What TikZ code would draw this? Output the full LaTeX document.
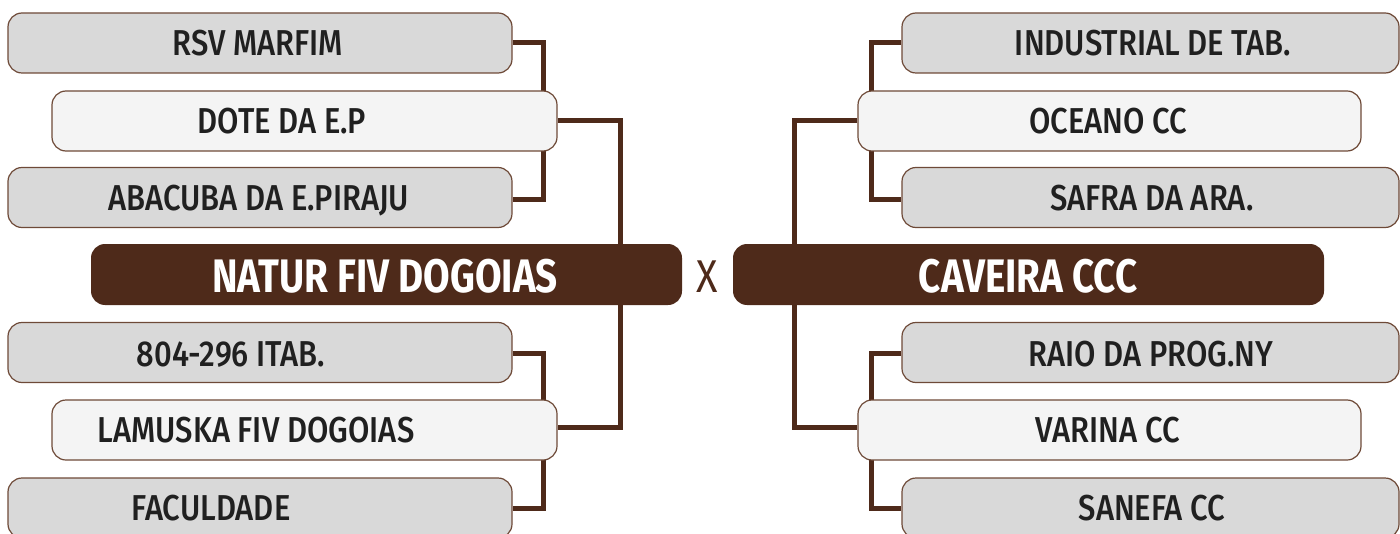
\documentclass[tikz,border=0pt]{standalone}
\usepackage{fontspec}
\setmainfont{Fira Sans}[UprightFont=* Medium, BoldFont=* Bold, FakeStretch=0.86]
\newfontfamily\titlefont{Fira Sans}[UprightFont=* Medium, BoldFont=* Bold, FakeStretch=0.82]
\newfontfamily\vsfont{Fira Sans}[FakeStretch=0.86]
\usetikzlibrary{backgrounds}
\definecolor{brn}{HTML}{4E2A1A}
\definecolor{bline}{HTML}{6E4A38}
\definecolor{gray1}{HTML}{D9D9D9}
\definecolor{gray2}{HTML}{F4F4F4}
\definecolor{txt}{HTML}{202020}
\begin{document}
\begin{tikzpicture}[x=0.5pt,y=-0.5pt,
  team/.style={draw=bline, line width=0.6pt, rounded corners=7pt, minimum height=30pt, inner sep=0pt},
  outerbox/.style={team, fill=gray1},
  innerbox/.style={team, fill=gray2},
  champ/.style={fill=brn, rounded corners=7pt, minimum height=30.5pt, minimum width=295.5pt, inner sep=0pt},
  lbl/.style={anchor=base, text=txt, font=\fontsize{18}{20}\selectfont, inner sep=0pt},
  clbl/.style={anchor=base, text=white, font=\titlefont\fontsize{23.5}{26}\selectfont\bfseries, inner sep=0pt},
  conn/.style={draw=brn, line width=2.5pt}]
\useasboundingbox (0,0) rectangle (1400,534);
\clip (0,0) rectangle (1400,534);
% left
\node[outerbox, minimum width=252pt] (rsv) at (260,43) {};
\node[innerbox, minimum width=252.5pt] (dote) at (304.5,121) {};
\node[outerbox, minimum width=252pt] (aba) at (260,197.5) {};
\node[champ] (natur) at (386.5,274.5) {};
\node[outerbox, minimum width=252pt] (itab) at (260,352.5) {};
\node[innerbox, minimum width=252.5pt] (lam) at (304.5,430) {};
\node[outerbox, minimum width=252pt] (fac) at (260,508) {};
% right
\node[outerbox, minimum width=248.5pt] (ind) at (1150.5,43) {};
\node[innerbox, minimum width=251.5pt] (oce) at (1109.5,121) {};
\node[outerbox, minimum width=248.5pt] (saf) at (1150.5,197.5) {};
\node[champ] (cav) at (1028.5,274.5) {};
\node[outerbox, minimum width=248.5pt] (raio) at (1150.5,352.5) {};
\node[innerbox, minimum width=251.5pt] (var) at (1109.5,430) {};
\node[outerbox, minimum width=248.5pt] (san) at (1150.5,508) {};
% labels
\node[lbl] (trsv) at (258,55.5) {RSV MARFIM};
\node[lbl] (tdote) at (282,133.5) {DOTE DA E.P};
\node[lbl] (taba) at (259,210) {ABACUBA DA E.PIRAJU};
\node[clbl] (tnatur) at (385,292) {NATUR FIV DOGOIAS};
\node[lbl] (titab) at (231,366) {804-296 ITAB.};
\node[lbl] (tlam) at (256,442.5) {LAMUSKA FIV DOGOIAS};
\node[lbl] (tfac) at (211,520.5) {FACULDADE};
\node[lbl] (tind) at (1153,55.5) {INDUSTRIAL DE TAB.};
\node[lbl] (toce) at (1108,133.5) {OCEANO CC};
\node[lbl] (tsaf) at (1152,210) {SAFRA DA ARA.};
\node[clbl] (tcav) at (1028,292) {CAVEIRA CCC};
\node[lbl] (traio) at (1151,366) {RAIO DA PROG.NY};
\node[lbl] (tvar) at (1108,442.5) {VARINA CC};
\node[lbl] (tsan) at (1152,520.5) {SANEFA CC};
\node[anchor=base, text=brn, inner sep=0pt, font=\vsfont\fontsize{23}{25}\selectfont] (vs) at (707.5,292) {X};
% connectors
\begin{pgfonlayer}{background}
\draw[conn] (rsv.east) -- ++(31,0) |- ([yshift=-1.25pt]aba.east);
\draw[conn] ([yshift=-0.5pt]itab.east) -- ++(31,0) |- (fac.east);
\draw[conn] (dote.east) -- ++(63,0) |- ([yshift=1.5pt]lam.east);
\draw[conn] (ind.west) -- ++(-30,0) |- ([yshift=-1.25pt]saf.west);
\draw[conn] ([yshift=-0.5pt]raio.west) -- ++(-30,0) |- (san.west);
\draw[conn] (oce.west) -- ++(-63,0) |- ([yshift=1.5pt]var.west);
\end{pgfonlayer}
\end{tikzpicture}
\end{document}
